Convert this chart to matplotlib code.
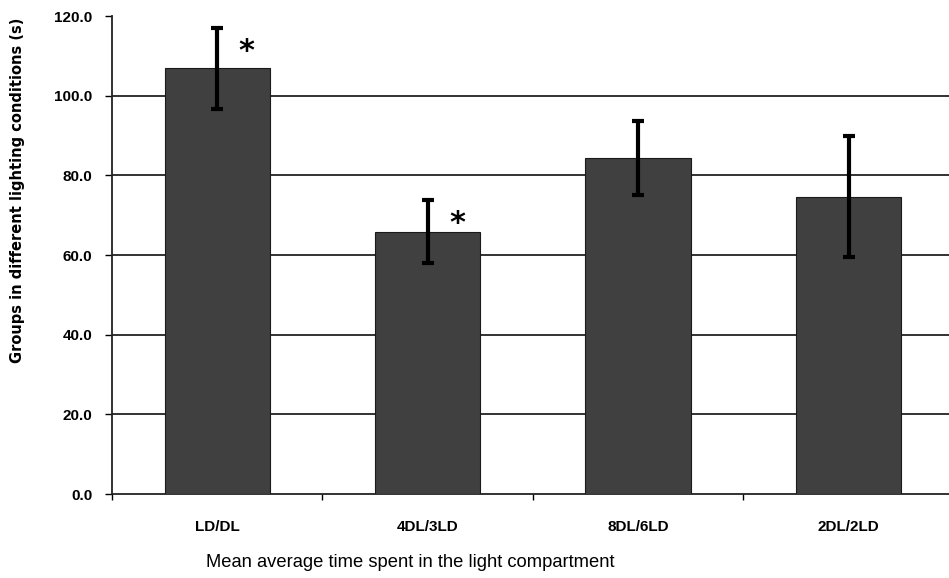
import numpy as np
import matplotlib.pyplot as plt

# data
groups = ['LD/DL', '4DL/3LD', '8DL/6LD', '2DL/2LD']
mean_time = [106.9, 65.9, 84.4, 74.6]
sem = [10.2, 8.0, 9.3, 15.2]
signif = [True, True, False, False]
yticks = [0, 20, 40, 60, 80, 100, 120]

fig = plt.figure(figsize=(9.49, 5.78), dpi=100)
ax = fig.add_axes([0.118, 0.1453, 0.887, 0.827])

x = np.arange(len(groups))
ax.bar(x, mean_time, width=0.5, color='#404040', edgecolor='#1a1a1a',
       linewidth=0.8, zorder=3)
ax.errorbar(x, mean_time, yerr=sem, fmt='none', ecolor='black',
            elinewidth=3, capsize=4.5, capthick=3, zorder=4)

# asterisks for significant groups, just right of the error bar top
for i, m in enumerate(mean_time):
    if signif[i]:
        ax.text(i + 0.14, m + sem[i] - 6.0, '*', fontsize=22, ha='center',
                va='center', color='black', fontweight='bold', zorder=5)

# horizontal grid lines (none at the top)
for v in yticks[1:-1]:
    ax.axhline(v, color='#222222', linewidth=1.3, zorder=1)

ax.set_xlim(-0.5, len(groups) - 0.5)
ax.set_ylim(0, 120)
ax.set_yticks(yticks)
ax.set_yticklabels([f'{v:.1f}' for v in yticks], fontweight='bold',
                   family='Liberation Sans', fontsize=11)

ax.set_xticks(x)
ax.set_xticklabels(groups, fontweight='bold', family='Liberation Sans',
                   fontsize=11)
ax.tick_params(axis='x', which='major', length=0, pad=19)
ax.set_xticks(np.arange(len(groups) + 1) - 0.5, minor=True)
ax.tick_params(axis='x', which='minor', length=4, width=1, direction='out')
ax.tick_params(axis='y', length=5, width=1, pad=9)

for s in ['top', 'right']:
    ax.spines[s].set_visible(False)
ax.spines['left'].set_color('#222222')
ax.spines['bottom'].set_color('#222222')
ax.spines['left'].set_linewidth(1.3)
ax.spines['bottom'].set_linewidth(1.3)

fig.text(0.018, 0.67, 'Groups in different lighting conditions (s)',
         rotation=90, ha='center', va='center', fontsize=10.5,
         fontweight='bold', family='DejaVu Sans')
fig.text(0.432, 0.026, 'Mean average time spent in the light compartment',
         ha='center', va='center', fontsize=13.2, family='Liberation Sans')

fig.savefig('out.png', dpi=100)
